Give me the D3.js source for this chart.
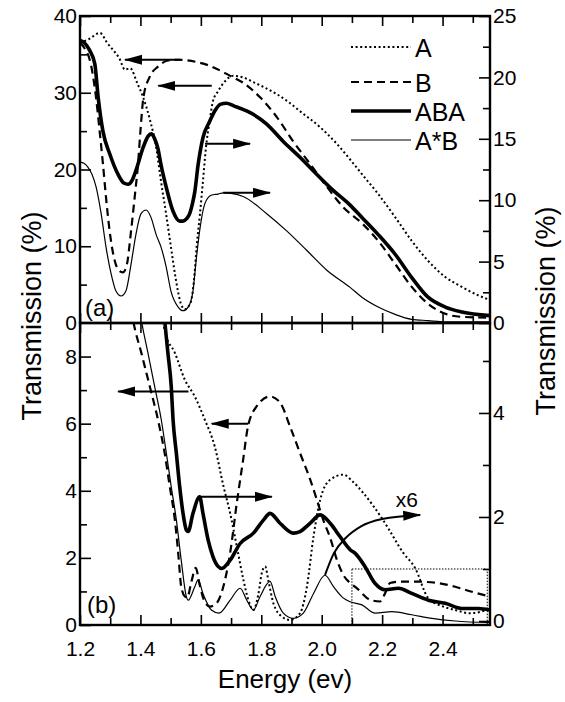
<!DOCTYPE html>
<html>
<head>
<meta charset="utf-8">
<script src="https://cdn.jsdelivr.net/npm/d3@7"></script>
<style>
  body { margin: 0; background: #fff; }
  svg text { font-family: "Liberation Sans", Arial, sans-serif; fill: #000; }
</style>
</head>
<body>
<svg id="chart" width="565" height="702"></svg>
<script>
// ---- data: [energy (eV), transmission (%)] ----
// panel (a): A and B on the left axis, ABA and A*B on the right axis
const topA = [[1.2,36.5],[1.23,37.0],[1.266,37.8],[1.29,36.5],[1.309,35.6],[1.33,34.5],[1.349,33.0],[1.366,33.2],[1.389,31.3],[1.409,29.4],[1.432,26.4],[1.452,22.9],[1.468,18.5],[1.485,14.2],[1.501,9.9],[1.518,5.5],[1.534,2.5],[1.547,1.8],[1.56,2.2],[1.568,2.9],[1.577,5.5],[1.586,9.9],[1.597,14.2],[1.607,18.5],[1.617,22.9],[1.629,26.3],[1.64,28.9],[1.657,30.2],[1.68,31.5],[1.707,32.2],[1.74,32.0],[1.773,31.4],[1.81,30.7],[1.852,29.8],[1.89,28.8],[1.928,27.6],[1.995,25.5],[2.051,23.3],[2.09,21.5],[2.133,19.4],[2.187,16.8],[2.243,13.8],[2.298,10.7],[2.352,8.1],[2.409,6.0],[2.464,4.7],[2.518,3.6],[2.557,3.0]]
const topB = [[1.2,36.5],[1.215,35.8],[1.236,33.7],[1.253,29.4],[1.265,25.0],[1.276,20.7],[1.286,16.4],[1.298,12.0],[1.315,8.1],[1.33,6.8],[1.342,6.6],[1.355,7.6],[1.369,12.0],[1.381,16.4],[1.392,20.7],[1.4,25.0],[1.41,29.4],[1.431,32.1],[1.458,33.4],[1.491,34.2],[1.525,34.3],[1.597,33.9],[1.63,33.5],[1.697,32.2],[1.74,31.3],[1.796,29.4],[1.852,26.8],[1.905,23.7],[1.962,20.7],[2.018,17.7],[2.071,15.1],[2.133,13.0],[2.187,10.7],[2.243,7.7],[2.298,4.7],[2.352,2.5],[2.409,1.2],[2.464,0.8],[2.557,0.7]]
const topABA = [[1.2,23.0],[1.215,22.8],[1.232,22.2],[1.249,21.1],[1.26,18.4],[1.276,15.6],[1.298,13.8],[1.326,12.1],[1.345,11.4],[1.359,11.3],[1.372,11.6],[1.385,12.4],[1.409,14.3],[1.425,15.2],[1.436,15.4],[1.447,15.0],[1.458,14.2],[1.468,12.9],[1.485,11.1],[1.508,9.1],[1.53,8.3],[1.541,8.3],[1.553,8.5],[1.563,8.9],[1.572,9.7],[1.58,10.7],[1.591,12.9],[1.607,15.1],[1.629,16.4],[1.647,17.3],[1.664,17.8],[1.685,17.9],[1.707,17.7],[1.773,17.0],[1.818,16.2],[1.872,14.8],[1.928,13.5],[1.984,12.1],[2.038,10.8],[2.094,9.6],[2.133,8.6],[2.187,7.2],[2.243,5.6],[2.298,3.7],[2.352,2.1],[2.409,1.3],[2.464,0.9],[2.557,0.6]]
const topAxB = [[1.2,13.1],[1.213,13.0],[1.226,12.7],[1.24,12.1],[1.253,11.1],[1.27,8.9],[1.286,6.2],[1.303,4.0],[1.319,2.6],[1.336,2.2],[1.352,2.6],[1.369,4.8],[1.385,7.2],[1.402,8.9],[1.419,9.2],[1.435,8.6],[1.452,7.2],[1.468,6.2],[1.485,4.6],[1.501,2.6],[1.525,1.3],[1.541,1.0],[1.558,1.3],[1.574,2.6],[1.584,5.0],[1.596,7.5],[1.613,9.7],[1.634,10.4],[1.657,10.5],[1.674,10.6],[1.7,10.55],[1.74,10.3],[1.818,8.9],[1.884,7.5],[1.951,5.9],[2.017,4.3],[2.094,2.9],[2.133,2.1],[2.187,1.3],[2.243,0.7],[2.298,0.3],[2.352,0.2],[2.409,0.1],[2.557,0.1]]

// panel (b): A and B on the left axis, ABA and A*B (x6) on the right axis
const botA = [[1.47,9.3],[1.482,8.71],[1.514,8.11],[1.547,7.31],[1.58,6.81],[1.613,6.12],[1.646,5.32],[1.675,4.13],[1.697,3.33],[1.719,2.34],[1.741,1.34],[1.757,0.75],[1.774,0.45],[1.79,0.9],[1.803,1.6],[1.813,1.74],[1.824,1.3],[1.84,0.65],[1.868,0.25],[1.895,0.15],[1.928,0.35],[1.951,1.14],[1.973,2.64],[1.995,3.73],[2.028,4.33],[2.072,4.48],[2.1,4.3],[2.137,3.94],[2.203,3.13],[2.27,2.15],[2.309,1.7],[2.352,0.81],[2.402,0.55],[2.44,0.45],[2.491,0.35],[2.557,0.48]]
const botB = [[1.37,9.4],[1.3755,9.1],[1.403,8.11],[1.431,7.11],[1.458,6.12],[1.48,5.13],[1.497,4.13],[1.514,3.13],[1.525,2.15],[1.535,1.14],[1.547,0.85],[1.555,0.82],[1.569,1.3],[1.583,1.7],[1.596,1.2],[1.61,0.75],[1.63,0.55],[1.653,0.66],[1.674,1.13],[1.697,2.15],[1.719,3.64],[1.74,4.93],[1.756,5.92],[1.785,6.52],[1.829,6.81],[1.862,6.63],[1.895,5.92],[1.928,5.13],[1.962,4.33],[1.984,3.73],[2.005,3.13],[2.028,2.6],[2.05,1.95],[2.071,1.5],[2.094,1.25],[2.116,1.1],[2.16,0.75],[2.193,0.7],[2.21,0.95],[2.226,1.25],[2.253,1.29],[2.319,1.29],[2.385,1.25],[2.442,1.14],[2.497,0.99],[2.557,0.85]]
const botABA = [[1.475,6.1],[1.48,5.79],[1.491,5.15],[1.502,4.51],[1.508,3.87],[1.519,3.22],[1.53,2.58],[1.541,2.07],[1.552,1.75],[1.558,1.72],[1.574,2.07],[1.596,2.39],[1.607,2.07],[1.624,1.56],[1.64,1.24],[1.657,1.05],[1.669,1.01],[1.697,1.17],[1.73,1.49],[1.774,1.69],[1.807,1.94],[1.829,2.07],[1.862,1.88],[1.906,1.69],[1.928,1.72],[1.962,1.88],[1.995,2.04],[2.028,1.88],[2.061,1.62],[2.094,1.37],[2.111,1.3],[2.144,1.04],[2.177,0.72],[2.21,0.6],[2.254,0.63],[2.298,0.53],[2.353,0.4],[2.409,0.34],[2.464,0.24],[2.519,0.24],[2.557,0.21]]
const botAxB = [[1.395,6.1],[1.403,5.79],[1.425,5.15],[1.447,4.51],[1.469,3.87],[1.486,3.22],[1.502,2.58],[1.519,1.94],[1.535,1.17],[1.552,0.47],[1.558,0.4],[1.58,0.66],[1.591,0.79],[1.607,0.53],[1.635,0.21],[1.66,0.15],[1.697,0.4],[1.73,0.63],[1.752,0.4],[1.774,0.21],[1.796,0.47],[1.829,0.76],[1.846,0.47],[1.873,0.15],[1.906,0.05],[1.939,0.15],[1.973,0.53],[2.011,0.88],[2.039,0.66],[2.072,0.44],[2.094,0.37],[2.133,0.31],[2.177,0.15],[2.232,0.18],[2.298,0.12],[2.365,0.05],[2.442,0.0],[2.557,-0.03]]

// tick values
const energyTicks = [1.2,1.3,1.4,1.5,1.6,1.7,1.8,1.9,2.0,2.1,2.2,2.3,2.4,2.5]
const energyLabels = [1.2,1.4,1.6,1.8,2.0,2.2,2.4]
const topLeftTicks = [0,10,20,30,40], topLeftMinor = [5,15,25,35]
const topRightTicks = [0,5,10,15,20,25], topRightMinor = [2.5,7.5,12.5,17.5,22.5]
const botLeftTicks = [0,2,4,6,8], botLeftMinor = [1,3,5,7]
const botRightTicks = [0,2,4], botRightMinor = [1,3,5]

// annotations, in data units of their panel axes
const topArrows = [
  { axis: 'L', y: 34.3, from: 1.532, to: 1.349 },
  { axis: 'L', y: 30.9, from: 1.636, to: 1.459 },
  { axis: 'R', y: 14.6, from: 1.614, to: 1.763 },
  { axis: 'R', y: 10.6, from: 1.674, to: 1.829 }
]
const botArrows = [
  { axis: 'L', y: 6.96, from: 1.559, to: 1.326 },
  { axis: 'L', y: 6.0, from: 1.757, to: 1.636 },
  { axis: 'R', y: 2.39, from: 1.598, to: 1.835 }
]
const x6Arrow = [[2.011,0.885],[2.04,1.3],[2.08,1.6],[2.13,1.82],[2.2,1.96],[2.326,2.04]]
const zoomBox = { x0: 2.1, x1: 2.548, top: 1.0 }

const legendItems = ['A', 'B', 'ABA', 'A*B']
const styles = {
  A: { width: 2, dash: '2,2.6' },
  B: { width: 2.2, dash: '8,5' },
  ABA: { width: 3.6, dash: null },
  'A*B': { width: 1.2, dash: null }
}

// ---- layout ----
const left = 80, right = 490
const pa = { top: 16, bottom: 323 }
const pb = { top: 323, bottom: 625 }

const svg = d3.select('#chart')
const x = d3.scaleLinear().domain([1.2, 2.557]).range([left, right])
const yaL = d3.scaleLinear().domain([0, 40]).range([pa.bottom, pa.top])
const yaR = d3.scaleLinear().domain([0, 25]).range([pa.bottom, pa.top])
const ybL = d3.scaleLinear().domain([0, 9]).range([pb.bottom, pb.top])
const ybR = d3.scaleLinear().domain([-0.077, 5.73]).range([pb.bottom, pb.top])

const defs = svg.append('defs')
defs.append('clipPath').attr('id', 'clipA').append('rect')
  .attr('x', left).attr('y', pa.top).attr('width', right - left).attr('height', pa.bottom - pa.top)
defs.append('clipPath').attr('id', 'clipB').append('rect')
  .attr('x', left).attr('y', pb.top).attr('width', right - left).attr('height', pb.bottom - pb.top)
defs.append('marker')
  .attr('id', 'head')
  .attr('markerUnits', 'userSpaceOnUse')
  .attr('viewBox', '0 -6 18 12')
  .attr('refX', 17).attr('refY', 0)
  .attr('markerWidth', 18).attr('markerHeight', 12)
  .attr('orient', 'auto')
  .append('path').attr('d', 'M0,-5L18,0L0,5Z').attr('fill', '#000')

function drawSeries (g, data, yScale, name) {
  const line = d3.line()
    .curve(d3.curveMonotoneX)
    .x((d) => x(d[0]))
    .y((d) => yScale(d[1]))
  const st = styles[name]
  g.append('path')
    .datum(data)
    .attr('d', line)
    .attr('fill', 'none')
    .attr('stroke', '#000')
    .attr('stroke-width', st.width)
    .attr('stroke-dasharray', st.dash)
    .attr('stroke-linejoin', 'round')
}

function styleAxis (g, size) {
  g.attr('font-size', size).attr('font-family', '"Liberation Sans", Arial, sans-serif')
  g.select('.domain').remove()
  g.selectAll('line').attr('stroke', '#000').attr('stroke-width', 1.6)
}

function drawYAxes (yL, yR, lTicks, lMinor, rTicks, rMinor) {
  styleAxis(svg.append('g').attr('transform', `translate(${left},0)`)
    .call(d3.axisLeft(yL).tickValues(lTicks).tickSize(-11).tickPadding(3).tickFormat(d3.format('d'))), 21)
  styleAxis(svg.append('g').attr('transform', `translate(${left},0)`)
    .call(d3.axisLeft(yL).tickValues(lMinor).tickSize(-7).tickFormat('')), 21)
  styleAxis(svg.append('g').attr('transform', `translate(${right},0)`)
    .call(d3.axisRight(yR).tickValues(rTicks).tickSize(-11).tickPadding(3).tickFormat(d3.format('d'))), 21)
  styleAxis(svg.append('g').attr('transform', `translate(${right},0)`)
    .call(d3.axisRight(yR).tickValues(rMinor).tickSize(-7).tickFormat('')), 21)
}

function drawXTicks (yPos, dir, labels) {
  const major = energyTicks.filter((t) => energyLabels.some((l) => Math.abs(l - t) < 1e-6))
  const minor = energyTicks.filter((t) => !major.includes(t))
  const make = dir === 'down' ? d3.axisTop : d3.axisBottom
  const g1 = svg.append('g').attr('transform', `translate(0,${yPos})`)
    .call(make(x).tickValues(major).tickSize(-10).tickPadding(16)
      .tickFormat(labels ? d3.format('.1f') : ''))
  styleAxis(g1, 21)
  const g2 = svg.append('g').attr('transform', `translate(0,${yPos})`)
    .call(make(x).tickValues(minor).tickSize(-7).tickFormat(''))
  styleAxis(g2, 21)
}

// axes and ticks
drawYAxes(yaL, yaR, topLeftTicks.slice(1), topLeftMinor, topRightTicks, topRightMinor)
drawYAxes(ybL, ybR, botLeftTicks, botLeftMinor, botRightTicks, botRightMinor)
// "0" of the top panel's left axis sits on the shared border
svg.append('text').attr('x', left - 3).attr('y', pa.bottom).attr('dy', '0.32em')
  .attr('text-anchor', 'end').attr('font-size', 21).text('0')
drawXTicks(pa.top, 'down', false)
drawXTicks(pa.bottom, 'up', false)
drawXTicks(pb.top, 'down', false)
drawXTicks(pb.bottom, 'up', true)

// series
const gA = svg.append('g').attr('clip-path', 'url(#clipA)')
drawSeries(gA, topA, yaL, 'A')
drawSeries(gA, topB, yaL, 'B')
drawSeries(gA, topABA, yaR, 'ABA')
drawSeries(gA, topAxB, yaR, 'A*B')

const gB = svg.append('g').attr('clip-path', 'url(#clipB)')
drawSeries(gB, botA, ybL, 'A')
drawSeries(gB, botB, ybL, 'B')
drawSeries(gB, botABA, ybR, 'ABA')
drawSeries(gB, botAxB, ybR, 'A*B')

// dotted zoom box in (b)
gB.append('rect')
  .attr('x', x(zoomBox.x0)).attr('y', ybR(zoomBox.top))
  .attr('width', x(zoomBox.x1) - x(zoomBox.x0))
  .attr('height', pb.bottom - ybR(zoomBox.top))
  .attr('fill', 'none').attr('stroke', '#000').attr('stroke-width', 1)
  .attr('stroke-dasharray', '1.5,1.5')

// arrows
function drawArrows (arrows, yL, yR) {
  arrows.forEach((a) => {
    const ys = a.axis === 'L' ? yL : yR
    svg.append('line')
      .attr('x1', x(a.from)).attr('x2', x(a.to))
      .attr('y1', ys(a.y)).attr('y2', ys(a.y))
      .attr('stroke', '#000').attr('stroke-width', 2)
      .attr('marker-end', 'url(#head)')
  })
}
drawArrows(topArrows, yaL, yaR)
drawArrows(botArrows, ybL, ybR)

svg.append('path')
  .datum(x6Arrow)
  .attr('d', d3.line().curve(d3.curveMonotoneX).x((d) => x(d[0])).y((d) => ybR(d[1])))
  .attr('fill', 'none').attr('stroke', '#000').attr('stroke-width', 2)
  .attr('marker-end', 'url(#head)')
svg.append('text')
  .attr('x', x(2.282)).attr('y', ybR(2.2))
  .attr('text-anchor', 'middle').attr('font-size', 21).text('x6')

// frames
;[pa, pb].forEach((p) => {
  svg.append('rect')
    .attr('x', left).attr('y', p.top)
    .attr('width', right - left).attr('height', p.bottom - p.top)
    .attr('fill', 'none').attr('stroke', '#000').attr('stroke-width', 2.4)
})

// legend
const legend = svg.append('g')
legendItems.forEach((name, i) => {
  const ly = [47, 82, 111, 140][i]
  const st = styles[name]
  legend.append('line')
    .attr('x1', 351).attr('x2', 411).attr('y1', ly).attr('y2', ly)
    .attr('stroke', '#000').attr('stroke-width', st.width)
    .attr('stroke-dasharray', st.dash)
  legend.append('text')
    .attr('x', 415).attr('y', ly + 10)
    .attr('font-size', 25).text(name)
})

// panel tags
svg.append('text').attr('x', 85).attr('y', 316).attr('font-size', 24).text('(a)')
svg.append('text').attr('x', 87).attr('y', 613).attr('font-size', 24).text('(b)')

// axis titles
svg.append('text')
  .attr('x', 285).attr('y', 688)
  .attr('text-anchor', 'middle').attr('font-size', 26)
  .text('Energy (ev)')
svg.append('text')
  .attr('transform', 'translate(41,316) rotate(-90)')
  .attr('text-anchor', 'middle').attr('font-size', 27)
  .text('Transmission (%)')
svg.append('text')
  .attr('transform', 'translate(555,311) rotate(-90)')
  .attr('text-anchor', 'middle').attr('font-size', 27)
  .text('Transmission (%)')
</script>
</body>
</html>
